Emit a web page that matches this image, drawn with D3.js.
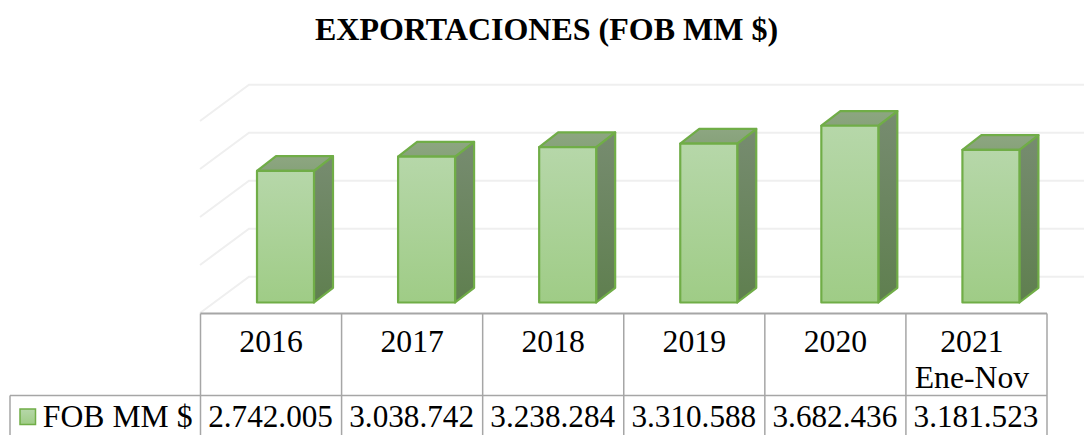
<!DOCTYPE html>
<html><head><meta charset="utf-8">
<script src="https://cdn.jsdelivr.net/npm/d3@7/dist/d3.min.js"></script>
<style>html,body{margin:0;padding:0;background:#fff;overflow:hidden}svg{display:block}text{font-family:"Liberation Serif",serif;fill:#000}</style>
</head><body><svg id="c" width="1084" height="435"></svg>
<script>
const titleText = "EXPORTACIONES (FOB MM $)";
const seriesName = "FOB MM $";
const categories = ["2016","2017","2018","2019","2020","2021 Ene-Nov"];
const values = [2742005,3038742,3238284,3310588,3682436,3181523];
const valueLabels = ["2.742.005","3.038.742","3.238.284","3.310.588","3.682.436","3.181.523"];
const gridTicks = [0,1000000,2000000,3000000,4000000];

const W=1084,H=435;
const svg=d3.select("#c");
const x=d3.scaleBand().domain(categories).range([200.5,1047]);
const y=d3.scaleLinear().domain([0,4000000]).range([302.5,110.5]);
const barW=57, barInset=56.5, dx=19, dy=14.7;
const floorFront=10.5, backX=49, backY=36.3;
const fs=31.7, fsValues=31.2;

const defs=svg.append("defs");
function grad(id,a,b){const g=defs.append("linearGradient").attr("id",id).attr("x1",0).attr("y1",0).attr("x2",0).attr("y2",1);
 g.append("stop").attr("offset","0%").attr("stop-color",a);g.append("stop").attr("offset","100%").attr("stop-color",b);}
grad("front","#b6d7a9","#9fcc86");
grad("side","#778c70","#5f7f4f");
grad("topf","#8da681","#87a27a");

svg.append("text").attr("x",546.5).attr("y",40).attr("text-anchor","middle")
  .attr("font-size",32).attr("font-weight","bold").text(titleText);

// walls: gridlines
const grid=svg.append("g").attr("fill","none").attr("stroke","#efefef").attr("stroke-width",2);
gridTicks.forEach(t=>{
  const yf=y(t)+floorFront, yb=yf-backY;
  grid.append("path").attr("d",d3.line()([[200,yf],[200+backX,yb],[W,yb]]));
});

// bars
const bars=svg.append("g").selectAll("g").data(categories).join("g");
bars.each(function(c,i){
  const g=d3.select(this), l=x(c)+barInset, r=l+barW, t=y(values[i]), b=y(0);
  const st={stroke:"#70ad47","stroke-width":2.2,"stroke-linejoin":"round"};
  const poly=(pts,f)=>{const p=g.append("path").attr("d",d3.line()(pts)+"Z").attr("fill",f);Object.entries(st).forEach(([k,v])=>p.attr(k,v));};
  poly([[r,t],[r+dx,t-dy],[r+dx,b-dy],[r,b]],"url(#side)");
  poly([[l,t],[l+dx,t-dy],[r+dx,t-dy],[r,t]],"url(#topf)");
  poly([[l,t],[r,t],[r,b],[l,b]],"url(#front)");
});

// data table
const tableTop=313.5,rowLine=395.5,tableLeft=10,x0=x.range()[0],x1=x.range()[1];
const tb=svg.append("g").attr("stroke","#a6a6a6").attr("stroke-width",1.5);
tb.append("line").attr("x1",x0).attr("x2",x1).attr("y1",tableTop).attr("y2",tableTop).attr("stroke-width",2);
tb.append("line").attr("x1",tableLeft).attr("x2",x1).attr("y1",rowLine).attr("y2",rowLine);
tb.append("line").attr("x1",tableLeft).attr("x2",tableLeft).attr("y1",rowLine).attr("y2",H);
[...categories.map(c=>x(c)),x1].forEach(v=>tb.append("line").attr("x1",v).attr("x2",v).attr("y1",tableTop).attr("y2",H));

categories.forEach((c,i)=>{
  const cx=x(c)+x.bandwidth()/2;
  const parts=c.split(" ");
  const shift=parts.length>1?-4.5:0;
  parts.forEach((p,j)=>svg.append("text").attr("x",cx+shift).attr("y",352+j*36).attr("text-anchor","middle").attr("font-size",fs).text(p));
  svg.append("text").attr("x",cx-0.5).attr("y",427).attr("text-anchor","middle").attr("font-size",fsValues).text(valueLabels[i]);
});
svg.append("rect").attr("x",20).attr("y",409).attr("width",15.5).attr("height",15.5).attr("fill","url(#front)").attr("stroke","#70ad47").attr("stroke-width",1.5);
svg.append("text").attr("x",192.5).attr("y",427).attr("text-anchor","end").attr("font-size",fs).text(seriesName);
</script></body></html>
